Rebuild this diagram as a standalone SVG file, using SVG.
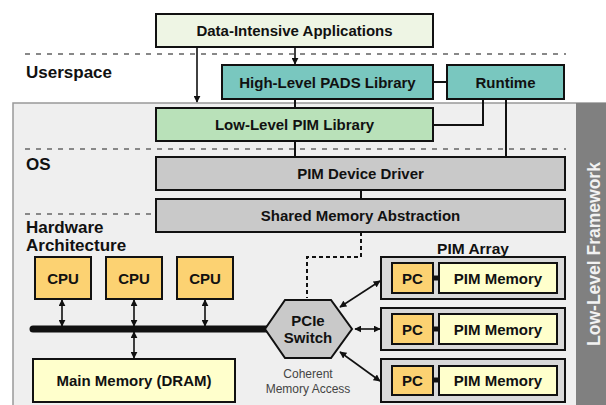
<svg xmlns="http://www.w3.org/2000/svg" width="606" height="405" viewBox="0 0 606 405">
<defs>
<marker id="ah" viewBox="0 0 10 10" refX="9" refY="5" markerWidth="7" markerHeight="7" markerUnits="userSpaceOnUse" orient="auto-start-reverse">
<path d="M0,0 L10,5 L0,10 z" fill="#111"/>
</marker>
<style>
.box{stroke:#111;stroke-width:2}
.lbl{font-family:"Liberation Sans",Arial,sans-serif;font-weight:bold;font-size:15px;fill:#111;text-anchor:middle}
.sec{font-family:"Liberation Sans",Arial,sans-serif;font-weight:bold;font-size:17px;fill:#111}
.dash{stroke:#888;stroke-width:2;stroke-dasharray:5 6;fill:none}
.ln{stroke:#111;stroke-width:2;fill:none}
.arr{stroke:#111;stroke-width:1.6;fill:none}
.teal{fill:#79c7bf}
.gray{fill:#c9c9c9}
.org{fill:#fcd272}
.yel{fill:#ffffcc}
</style>
</defs>
<rect x="13" y="103" width="600" height="320" fill="#efefef" stroke="#999" stroke-width="1.5"/>
<rect x="576" y="103" width="30" height="302" fill="#808080"/>
<text x="594" y="254" transform="rotate(-90 594 254)" font-family="Liberation Sans,Arial,sans-serif" font-weight="bold" font-size="17.5" fill="#f2f2f2" text-anchor="middle" dominant-baseline="central">Low-Level Framework</text>
<g id="layers">
<line class="dash" x1="25" y1="54" x2="566" y2="54"/>
<line class="dash" x1="25" y1="149" x2="566" y2="149"/>
<line class="dash" x1="25" y1="214" x2="156" y2="214"/>
<text class="sec" x="26" y="78">Userspace</text>
<text class="sec" x="26" y="170">OS</text>
<text class="sec" x="26" y="233">Hardware</text>
<text class="sec" x="26" y="251">Architecture</text>
<text class="sec" x="473" y="254" text-anchor="middle" style="font-size:15.5px">PIM Array</text>
</g>
<g id="connectors">
<line class="arr" x1="197" y1="47" x2="197" y2="102" marker-end="url(#ah)"/>
<line class="arr" x1="295" y1="47" x2="295" y2="64" marker-end="url(#ah)"/>
<line class="ln" x1="433" y1="82" x2="447" y2="82"/>
<line class="ln" x1="295" y1="99" x2="295" y2="108"/>
<polyline class="ln" points="483,99 483,125 433,125"/>
<line class="ln" x1="506" y1="99" x2="506" y2="157"/>
<line class="ln" x1="295" y1="141" x2="295" y2="157"/>
<line class="ln" x1="361" y1="190" x2="361" y2="199"/>
<polyline points="361,232 361,257 307,257 307,298" fill="none" stroke="#111" stroke-width="2" stroke-dasharray="4 3"/>
<line x1="33" y1="329" x2="268" y2="329" stroke="#111" stroke-width="7" stroke-linecap="round"/>
<line class="arr" x1="62" y1="300" x2="62" y2="326" marker-start="url(#ah)" marker-end="url(#ah)"/>
<line class="arr" x1="134" y1="300" x2="134" y2="326" marker-start="url(#ah)" marker-end="url(#ah)"/>
<line class="arr" x1="205" y1="300" x2="205" y2="326" marker-start="url(#ah)" marker-end="url(#ah)"/>
<line class="arr" x1="134" y1="332" x2="134" y2="358" marker-start="url(#ah)" marker-end="url(#ah)"/>
<line class="arr" x1="340" y1="307" x2="380" y2="281" marker-start="url(#ah)" marker-end="url(#ah)"/>
<line class="arr" x1="355" y1="329" x2="380" y2="329" marker-start="url(#ah)" marker-end="url(#ah)"/>
<line class="arr" x1="340" y1="352" x2="380" y2="381" marker-start="url(#ah)" marker-end="url(#ah)"/>
</g>
<g id="data-apps">
<rect class="box" x="156" y="14" width="277" height="33" fill="#eef5e4"/>
<text class="lbl" x="294.5" y="36">Data-Intensive Applications</text>
</g>
<g id="high-level">
<rect class="box teal" x="222" y="65" width="211" height="34"/>
<text class="lbl" x="327.5" y="87.5">High-Level PADS Library</text>
</g>
<g id="runtime">
<rect class="box teal" x="447" y="65" width="117" height="34"/>
<text class="lbl" x="505.5" y="87.5">Runtime</text>
</g>
<g id="low-level">
<rect class="box" x="156" y="108" width="277" height="33" fill="#b9e1b9"/>
<text class="lbl" x="294.5" y="130">Low-Level PIM Library</text>
</g>
<g id="driver">
<rect class="box gray" x="156" y="157" width="409" height="33"/>
<text class="lbl" x="360.5" y="179">PIM Device Driver</text>
</g>
<g id="shared">
<rect class="box gray" x="156" y="199" width="409" height="33"/>
<text class="lbl" x="360.5" y="221">Shared Memory Abstraction</text>
</g>
<g id="cpu1"><rect class="box org" x="35" y="257" width="56" height="42"/><text class="lbl" x="63" y="283.5">CPU</text></g>
<g id="cpu2"><rect class="box org" x="106" y="257" width="56" height="42"/><text class="lbl" x="134" y="283.5">CPU</text></g>
<g id="cpu3"><rect class="box org" x="177" y="257" width="56" height="42"/><text class="lbl" x="205" y="283.5">CPU</text></g>
<g id="main-memory">
<rect class="box yel" x="33" y="359" width="202" height="43"/>
<text class="lbl" x="134" y="386">Main Memory (DRAM)</text>
</g>
<g id="pcie-switch">
<polygon class="box gray" points="265,329 285,300 331,300 352,329 331,358 285,358"/>
<text class="lbl" x="308" y="326">PCIe</text>
<text class="lbl" x="308" y="343">Switch</text>
<text x="308" y="378" font-family="Liberation Sans,Arial,sans-serif" font-size="12" fill="#444" text-anchor="middle">Coherent</text>
<text x="308" y="393" font-family="Liberation Sans,Arial,sans-serif" font-size="12" fill="#444" text-anchor="middle">Memory Access</text>
</g>
<g id="pim1">
<rect class="box" x="381" y="257" width="184" height="42" fill="#d9d9d9"/>
<rect class="box org" x="392" y="263" width="41" height="30"/>
<line x1="433" y1="278" x2="439" y2="278" stroke="#111" stroke-width="5"/>
<rect class="box yel" x="439" y="263" width="118" height="30"/>
<text class="lbl" x="412.5" y="283.5">PC</text>
<text class="lbl" x="498" y="283.5">PIM Memory</text>
</g>
<g id="pim2">
<rect class="box" x="381" y="308" width="184" height="42" fill="#d9d9d9"/>
<rect class="box org" x="392" y="314" width="41" height="30"/>
<line x1="433" y1="329" x2="439" y2="329" stroke="#111" stroke-width="5"/>
<rect class="box yel" x="439" y="314" width="118" height="30"/>
<text class="lbl" x="412.5" y="334.5">PC</text>
<text class="lbl" x="498" y="334.5">PIM Memory</text>
</g>
<g id="pim3">
<rect class="box" x="381" y="359" width="184" height="43" fill="#d9d9d9"/>
<rect class="box org" x="392" y="366" width="41" height="29"/>
<line x1="433" y1="380" x2="439" y2="380" stroke="#111" stroke-width="5"/>
<rect class="box yel" x="439" y="366" width="118" height="29"/>
<text class="lbl" x="412.5" y="386">PC</text>
<text class="lbl" x="498" y="386">PIM Memory</text>
</g>
</svg>
